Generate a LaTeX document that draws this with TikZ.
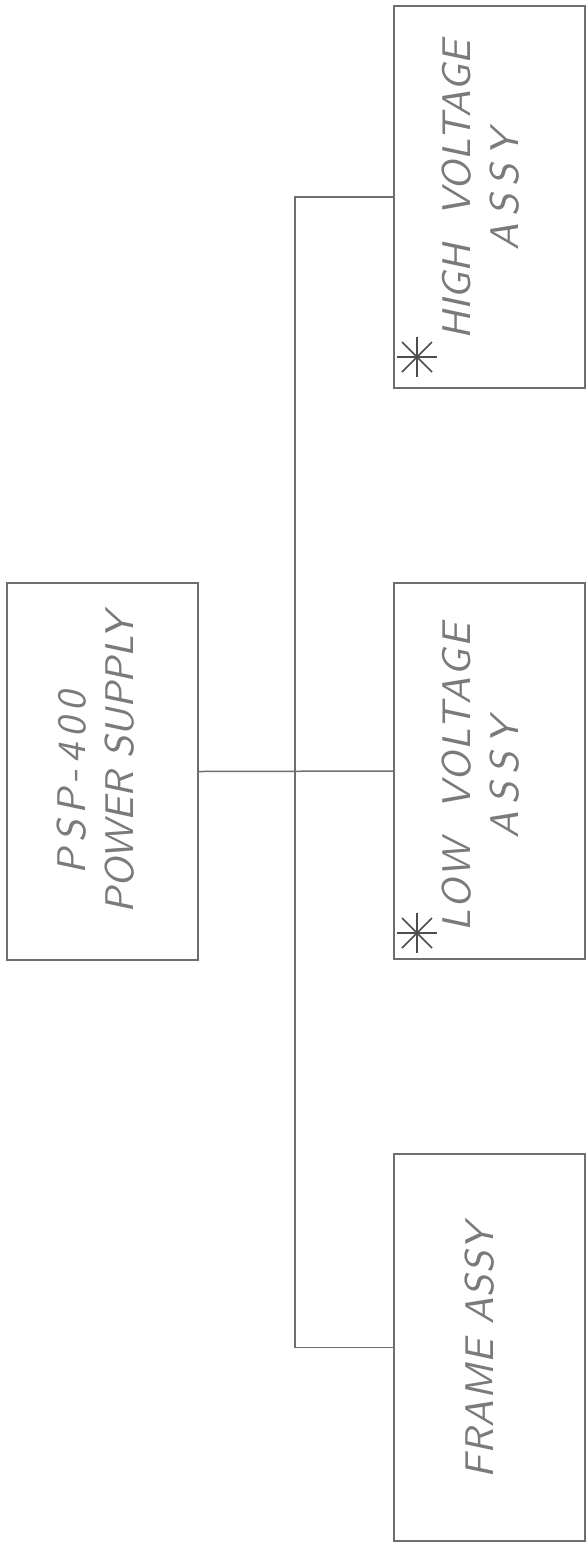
\documentclass[tikz,border=0pt]{standalone}
\usepackage{fontspec}
\newfontfamily\hand{lmsans10-oblique.otf}
\newcommand\lsp[2]{{\addfontfeature{LetterSpace=#1}#2}}
\begin{document}
\begin{tikzpicture}[x=1pt,y=-1pt,
  box/.style={draw=linegray,line width=1.6pt,minimum width=191pt,inner sep=0pt},
  lbl/.style={text=textgray,rotate=90,align=center,font=\hand\fontsize{40}{48}\selectfont},
  wire/.style={draw=linegray,line width=1.5pt},
  astk/.style={draw=linegray!70!black,line width=1.6pt}]
\definecolor{linegray}{HTML}{6E6E6E}
\definecolor{textgray}{HTML}{7A7A7A}
\useasboundingbox[fill=white] (0,0) rectangle (587,1543);
% boxes
\node[box,minimum height=377pt] (psp) at (102.5,771.5) {};
\node[box,minimum height=382pt] (hv) at (489.5,197) {};
\node[box,minimum height=376pt] (lv) at (489.5,771) {};
\node[box,minimum height=387pt] (fr) at (489.5,1347.5) {};
% labels
\node[lbl] (tpsp) at (96,771) {\lsp{15}{PSP-400}\hspace*{24pt}\\\hspace*{16pt}POWER SUPPLY};
\node[lbl] (thv) at (481,190) {\lsp{1}{HIGH\ \ VOLTAGE}\\\lsp{19}{ASSY}};
\node[lbl] (tlv) at (481,778) {\lsp{5}{LOW\ \ VOLTAGE}\\\lsp{19}{ASSY}};
\node[lbl] (tfr) at (480,1351) {\lsp{3}{FRAME ASSY}};
% connectors
\coordinate (spine) at (295,0);
\draw[wire] (psp.east) -- (lv.west);
\draw[wire] (hv.west) -- (hv.west -| spine) -- (fr.west -| spine) -- (fr.west);
% asterisks
\coordinate (s1) at (417,357);
\coordinate (s2) at (417,933);
\draw[astk] (s1) ++(0,-20) -- ++(0,40);
\draw[astk] (s1) ++(-20,0) -- ++(40,0);
\draw[astk] (s1) ++(-15,-15) -- ++(30,30);
\draw[astk] (s1) ++(-15,15) -- ++(30,-30);
\draw[astk] (s2) ++(0,-20) -- ++(0,40);
\draw[astk] (s2) ++(-20,0) -- ++(40,0);
\draw[astk] (s2) ++(-15,-15) -- ++(30,30);
\draw[astk] (s2) ++(-15,15) -- ++(30,-30);
\end{tikzpicture}
\end{document}
